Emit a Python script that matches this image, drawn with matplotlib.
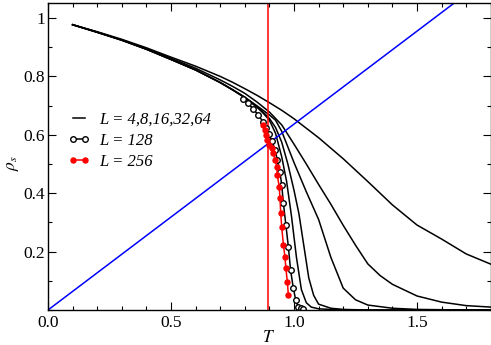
import matplotlib
matplotlib.use("Agg")
import matplotlib.pyplot as plt
import numpy as np

# ---- data ----
T_low = [0.1, 0.2, 0.3, 0.4, 0.5, 0.6, 0.7]
rho4_low = [0.977, 0.953, 0.927, 0.898, 0.866, 0.835, 0.800]
rho8_low = [0.977, 0.952, 0.925, 0.895, 0.862, 0.828, 0.788]
rhoB_low = [0.977, 0.951, 0.924, 0.893, 0.858, 0.822, 0.779]

T4 = [0.75, 0.8, 0.85, 0.9, 0.95, 1.0, 1.1, 1.2, 1.3, 1.4, 1.5, 1.6, 1.7, 1.8]
rho4 = [0.780, 0.758, 0.735, 0.710, 0.684, 0.655, 0.590, 0.518, 0.440, 0.360, 0.291, 0.243, 0.192, 0.157]

T8 = [0.75, 0.8, 0.85, 0.9, 0.95, 1.0, 1.05, 1.1, 1.15, 1.2, 1.25, 1.3, 1.35, 1.4, 1.5, 1.6, 1.7, 1.8]
rho8 = [0.766, 0.742, 0.712, 0.678, 0.634, 0.568, 0.500, 0.430, 0.362, 0.290, 0.222, 0.158, 0.118,
        0.088, 0.048, 0.027, 0.015, 0.010]

T16 = [0.75, 0.8, 0.85, 0.9, 0.925, 0.95, 1.0, 1.05, 1.1, 1.15, 1.2, 1.25, 1.3, 1.4, 1.5, 1.6, 1.8]
rho16 = [0.755, 0.729, 0.699, 0.668, 0.650, 0.612, 0.505, 0.405, 0.310, 0.180, 0.075, 0.035, 0.017,
         0.006, 0.002, 0.001, 0.0]

T32 = [0.75, 0.8, 0.85, 0.875, 0.9, 0.925, 0.95, 0.975, 1.0, 1.02, 1.04, 1.06, 1.08, 1.1, 1.15, 1.2, 1.3, 1.8]
rho32 = [0.754, 0.728, 0.696, 0.677, 0.656, 0.625, 0.575, 0.500, 0.410, 0.330, 0.220, 0.110, 0.050,
         0.020, 0.006, 0.002, 0.0, 0.0]

T64 = [0.75, 0.8, 0.85, 0.875, 0.9, 0.925, 0.95, 0.97, 0.99, 1.01, 1.03, 1.05, 1.07, 1.1, 1.2, 1.8]
rho64 = [0.754, 0.727, 0.694, 0.674, 0.650, 0.605, 0.525, 0.440, 0.320, 0.180, 0.070, 0.025, 0.010,
         0.004, 0.0, 0.0]

T128 = [0.794, 0.814, 0.835, 0.855, 0.873, 0.885, 0.898, 0.910, 0.923, 0.932, 0.943,
        0.950, 0.957, 0.967, 0.977, 0.986, 0.997, 1.007, 1.017, 1.027, 1.038]
rho128 = [0.721, 0.708, 0.687, 0.668, 0.645, 0.625, 0.603, 0.578, 0.548, 0.514, 0.474,
          0.428, 0.365, 0.291, 0.217, 0.137, 0.076, 0.034, 0.011, 0.006, 0.002]

T256 = [0.876, 0.882, 0.886, 0.891, 0.900, 0.909, 0.916, 0.923, 0.930, 0.932, 0.940,
        0.943, 0.946, 0.950, 0.957, 0.963, 0.967, 0.973, 0.977]
rho256 = [0.634, 0.616, 0.599, 0.582, 0.565, 0.554, 0.537, 0.514, 0.491, 0.462, 0.422,
          0.383, 0.331, 0.285, 0.223, 0.183, 0.143, 0.097, 0.051]

T_KT = 0.893
line_T = [0.0, 1.8]
line_rho = [0.0, 1.146]

legend_labels = ["L = 4,8,16,32,64", "L = 128", "L = 256"]

# ---- figure ----
plt.rcParams['font.family'] = ['Liberation Serif', 'DejaVu Serif']
plt.rcParams['mathtext.fontset'] = 'stix'

fig = plt.figure(figsize=(4.91, 3.45), dpi=100)
ax = fig.add_axes([48/491, 35/345, 442.8/491, 306.6/345])

lw = 1.1
ax.plot(T_low + T4, rho4_low + rho4, color='black', lw=lw, label=legend_labels[0])
ax.plot(T_low + T8, rho8_low + rho8, color='black', lw=lw)
ax.plot(T_low + T16, rhoB_low + rho16, color='black', lw=lw)
ax.plot(T_low + T32, rhoB_low + rho32, color='black', lw=lw)
ax.plot(T_low + T64, rhoB_low + rho64, color='black', lw=lw)

ax.plot(line_T, line_rho, color='#0000ff', lw=1.1)
ax.axvline(T_KT, color='#ff0000', lw=1.1)

ax.plot(T128, rho128, color='black', lw=lw, marker='o', ms=4.0, mfc='white',
        mec='black', mew=1.0, label=legend_labels[1])
ax.plot(T256, rho256, color='#ff0000', lw=lw, marker='o', ms=3.6, mfc='#ff0000',
        mec='#ff0000', label=legend_labels[2])

ax.set_xlim(0, 1.8)
ax.set_ylim(0, 1.05)
ax.set_xticks([0.0, 0.5, 1.0, 1.5])
ax.set_xticklabels(['0.0', '0.5', '1.0', '1.5'])
ax.set_xticks(np.arange(0, 1.81, 0.1), minor=True)
ax.set_yticks([0.2, 0.4, 0.6, 0.8, 1.0])
ax.set_yticklabels(['0.2', '0.4', '0.6', '0.8', '1'])
ax.set_yticks(np.arange(0, 1.05, 0.1), minor=True)
ax.tick_params(which='both', direction='in', top=True, right=True, labelsize=12.5)
ax.tick_params(axis='y', which='both', pad=2)
ax.tick_params(which='major', length=6, width=0.8)
ax.tick_params(which='minor', length=3, width=0.8)
for s in ax.spines.values():
    s.set_linewidth(1.0)

ax.set_xlabel('$T$', fontsize=12.5)
ax.xaxis.set_label_coords((268 - 48) / 442.8, -0.066)
ax.set_ylabel(r'$\rho_s$', fontsize=12.5)
ax.yaxis.set_label_coords((21 - 48) / 442.8, (310 - 163) / 306.6)

leg = ax.legend(loc='center left', bbox_to_anchor=(0.045, 0.551), frameon=False,
                prop={'family': 'Liberation Serif', 'style': 'italic', 'size': 12},
                handlelength=1.3, handletextpad=0.6, labelspacing=0.3,
                borderpad=0, borderaxespad=0, numpoints=2)

fig.savefig('out.png', dpi=100)
